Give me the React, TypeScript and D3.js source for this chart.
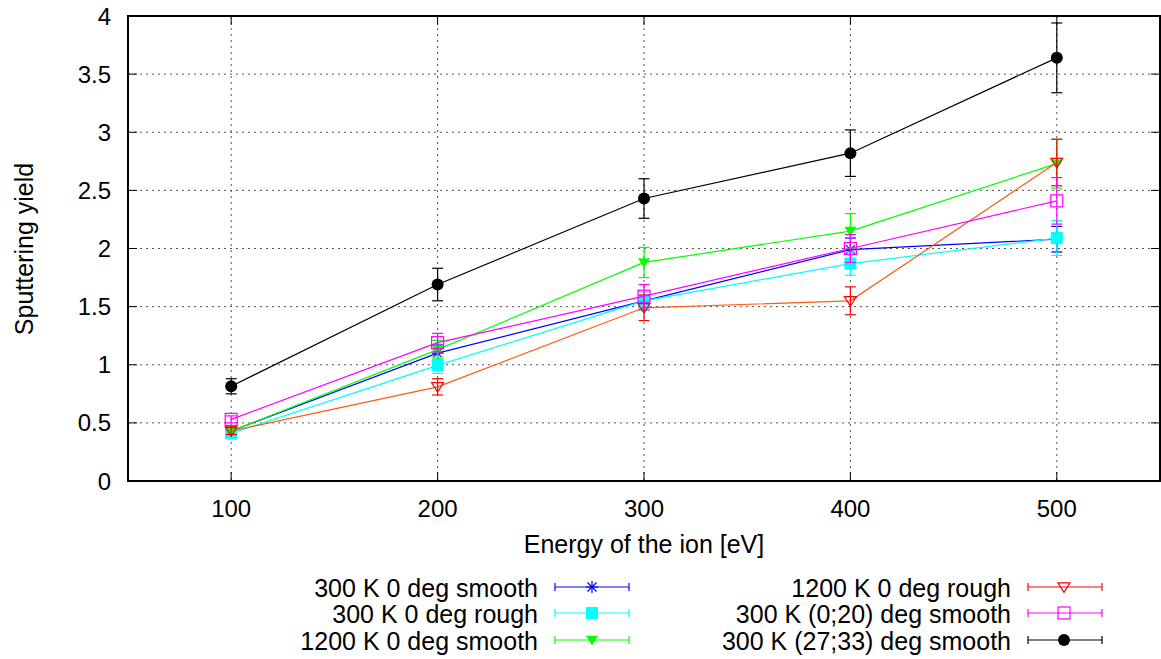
import React from "react";
import * as d3 from "d3";

const energies = [100, 200, 300, 400, 500];

const smooth300 = [0.43, 1.1, 1.55, 1.99, 2.08];
const smooth300Err = [0.03, 0.07, 0.08, 0.1, 0.11];
const rough300 = [0.41, 0.995, 1.55, 1.87, 2.09];
const rough300Err = [0.03, 0.07, 0.08, 0.1, 0.15];
const smooth1200 = [0.43, 1.13, 1.88, 2.15, 2.73];
const smooth1200Err = [0.03, 0.08, 0.13, 0.15, 0.21];
const rough1200 = [0.43, 0.81, 1.49, 1.55, 2.74];
const rough1200Err = [0.03, 0.07, 0.11, 0.12, 0.2];
const smooth300_0_20 = [0.53, 1.19, 1.59, 2.0, 2.41];
const smooth300_0_20Err = [0.03, 0.08, 0.1, 0.12, 0.2];
const smooth300_27_33 = [0.815, 1.69, 2.43, 2.82, 3.64];
const smooth300_27_33Err = [0.065, 0.14, 0.17, 0.2, 0.3];

const seriesNames = [
  "300 K 0 deg smooth",
  "300 K 0 deg rough",
  "1200 K 0 deg smooth",
  "1200 K 0 deg rough",
  "300 K (0;20) deg smooth",
  "300 K (27;33) deg smooth",
];

const xTicks = [100, 200, 300, 400, 500];
const yTicks = [0, 0.5, 1, 1.5, 2, 2.5, 3, 3.5, 4];

type S = {
  name: string;
  values: number[];
  errs: number[];
  color: string;
  lineColor: string;
  marker: string;
};

const series: S[] = [
  { name: seriesNames[0], values: smooth300, errs: smooth300Err, color: "#0000ff", lineColor: "#0000ff", marker: "star" },
  { name: seriesNames[1], values: rough300, errs: rough300Err, color: "#00ffff", lineColor: "#00ffff", marker: "fsquare" },
  { name: seriesNames[2], values: smooth1200, errs: smooth1200Err, color: "#00ff00", lineColor: "#00ff00", marker: "ftri" },
  { name: seriesNames[3], values: rough1200, errs: rough1200Err, color: "#ff0000", lineColor: "#ff5a10", marker: "otri" },
  { name: seriesNames[4], values: smooth300_0_20, errs: smooth300_0_20Err, color: "#ff00ff", lineColor: "#ff00ff", marker: "osquare" },
  { name: seriesNames[5], values: smooth300_27_33, errs: smooth300_27_33Err, color: "#000000", lineColor: "#000000", marker: "circle" },
];

const FONT = "'Liberation Sans', Arial, Helvetica, sans-serif";

function Marker({ type, x, y, color }: { type: string; x: number; y: number; color: string }) {
  const s = 6;
  switch (type) {
    case "star":
      return (
        <g stroke={color} strokeWidth={1.2}>
          <line x1={x - s} y1={y} x2={x + s} y2={y} />
          <line x1={x} y1={y - s} x2={x} y2={y + s} />
          <line x1={x - s * 0.75} y1={y - s * 0.75} x2={x + s * 0.75} y2={y + s * 0.75} />
          <line x1={x - s * 0.75} y1={y + s * 0.75} x2={x + s * 0.75} y2={y - s * 0.75} />
        </g>
      );
    case "fsquare":
      return <rect x={x - s} y={y - s} width={2 * s} height={2 * s} fill={color} />;
    case "osquare":
      return <rect x={x - s} y={y - s} width={2 * s} height={2 * s} fill="none" stroke={color} strokeWidth={1.2} />;
    case "ftri":
      return <path d={`M${x - s},${y - s * 0.7}L${x + s},${y - s * 0.7}L${x},${y + s * 0.9}Z`} fill={color} />;
    case "otri":
      return (
        <path d={`M${x - s},${y - s * 0.7}L${x + s},${y - s * 0.7}L${x},${y + s * 0.9}Z`} fill="none" stroke={color} strokeWidth={1.2} />
      );
    case "circle":
      return <circle cx={x} cy={y} r={s} fill={color} />;
  }
  return null;
}

export default function App() {
  const W = 1161;
  const H = 659;
  const left = 128;
  const right = 1160;
  const top = 16;
  const bottom = 481;

  const x = d3.scaleLinear().domain([50, 550]).range([left, right]);
  const y = d3.scaleLinear().domain([0, 4]).range([bottom, top]);
  const line = d3
    .line<number>()
    .x((_, i) => x(energies[i]))
    .y((d) => y(d));

  const tickLen = 9;
  const capW = 5.5;

  const legendRows = [587, 613, 640];
  const legendCols = [
    { textRight: 538, s0: 555, s1: 629, m: 592 },
    { textRight: 1011, s0: 1028, s1: 1102, m: 1064 },
  ];

  return (
    <svg width={W} height={H} style={{ position: "absolute", left: 0, top: 0, background: "#fff" }} fontFamily={FONT}>
      <rect x={0} y={0} width={W} height={H} fill="#fff" />
      {/* grid */}
      <g stroke="#555" strokeWidth={1} strokeDasharray="2,4">
        {xTicks.map((t) => (
          <line key={"gx" + t} x1={x(t)} x2={x(t)} y1={top} y2={bottom} />
        ))}
        {yTicks.slice(1, -1).map((t) => (
          <line key={"gy" + t} x1={left} x2={right} y1={y(t)} y2={y(t)} />
        ))}
      </g>
      {/* ticks */}
      <g stroke="#000" strokeWidth={1}>
        {yTicks.map((t) => (
          <g key={"ty" + t}>
            <line x1={left} x2={left + tickLen} y1={y(t)} y2={y(t)} />
            <line x1={right} x2={right - tickLen} y1={y(t)} y2={y(t)} />
          </g>
        ))}
        {xTicks.map((t) => (
          <g key={"tx" + t}>
            <line x1={x(t)} x2={x(t)} y1={bottom} y2={bottom - tickLen} />
            <line x1={x(t)} x2={x(t)} y1={top} y2={top + tickLen} />
          </g>
        ))}
      </g>
      {/* tick labels */}
      <g fontSize={24} fill="#000">
        {yTicks.map((t) => (
          <text key={"ly" + t} x={111} y={y(t) + 8.5} textAnchor="end">
            {t}
          </text>
        ))}
        {xTicks.map((t) => (
          <text key={"lx" + t} x={x(t)} y={bottom + 36} textAnchor="middle">
            {t}
          </text>
        ))}
      </g>
      <text x={(left + right) / 2} y={553} textAnchor="middle" fontSize={25}>
        Energy of the ion [eV]
      </text>
      <text transform={`translate(33,249) rotate(-90)`} textAnchor="middle" fontSize={25}>
        Sputtering yield
      </text>
      {/* series */}
      {series.map((s) => (
        <g key={s.name}>
          <path d={line(s.values) || ""} fill="none" stroke={s.lineColor} strokeWidth={1.2} />
          {s.values.map((v, i) => {
            const cx = x(energies[i]);
            const hi = y(v + s.errs[i]);
            const lo = y(v - s.errs[i]);
            return (
              <g key={i} stroke={s.color} strokeWidth={1.2}>
                <line x1={cx} x2={cx} y1={hi} y2={lo} />
                <line x1={cx - capW} x2={cx + capW} y1={hi} y2={hi} />
                <line x1={cx - capW} x2={cx + capW} y1={lo} y2={lo} />
              </g>
            );
          })}
          {s.values.map((v, i) => (
            <Marker key={"m" + i} type={s.marker} x={x(energies[i])} y={y(v)} color={s.color} />
          ))}
        </g>
      ))}
      {/* frame */}
      <rect x={left} y={top} width={right - left} height={bottom - top} fill="none" stroke="#000" strokeWidth={2} />
      {/* legend */}
      {series.map((s, k) => {
        const col = legendCols[Math.floor(k / 3)];
        const ry = legendRows[k % 3];
        return (
          <g key={"leg" + k}>
            <text x={col.textRight} y={ry + 9.5} textAnchor="end" fontSize={25}>
              {s.name}
            </text>
            <g stroke={s.color} strokeWidth={1.2}>
              <line x1={col.s0} x2={col.s1} y1={ry} y2={ry} />
              <line x1={col.s0} x2={col.s0} y1={ry - 4} y2={ry + 4} />
              <line x1={col.s1} x2={col.s1} y1={ry - 4} y2={ry + 4} />
            </g>
            <Marker type={s.marker} x={col.m} y={ry} color={s.color} />
          </g>
        );
      })}
    </svg>
  );
}
